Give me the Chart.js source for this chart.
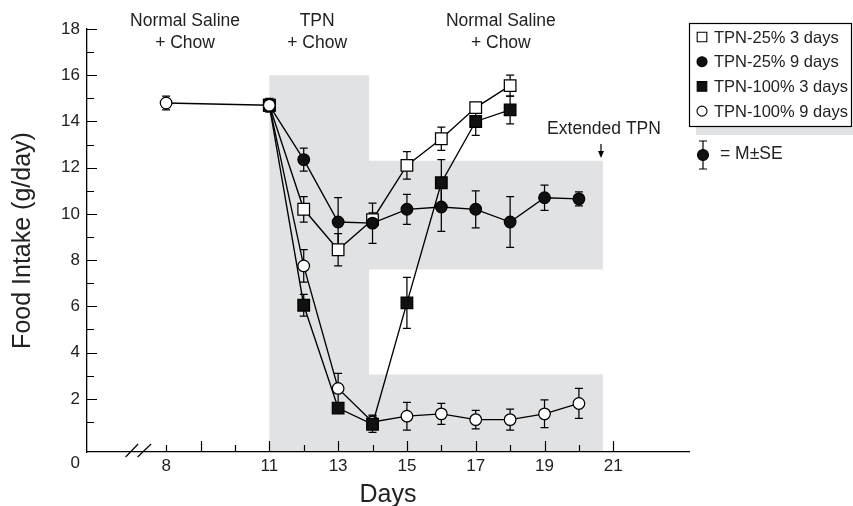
<!DOCTYPE html>
<html>
<head>
<meta charset="utf-8">
<script src="https://cdn.jsdelivr.net/npm/chart.js@4.4.1/dist/chart.umd.min.js"></script>
<style>
  html, body { margin: 0; padding: 0; background: #fff; }
</style>
</head>
<body>
<canvas id="intakeChart" width="853" height="506"></canvas>
<script>
// Food intake (g/day), mean and SE
const baseDays = [8, 11];
const baseIntake = [14.8, 14.7];
const baseSE = [0.3, 0.3];

const days25s3 = [11, 12, 13, 14, 15, 16, 17, 18];
const intake25s3 = [14.7, 10.2, 8.45, 9.75, 12.1, 13.25, 14.6, 15.55];
const se25s3 = [0, 0.55, 0.7, 0.3, 0.6, 0.5, 0.22, 0.45];

const days25s9 = [11, 12, 13, 14, 15, 16, 17, 18, 19, 20];
const intake25s9 = [14.7, 12.35, 9.65, 9.6, 10.2, 10.3, 10.2, 9.65, 10.7, 10.65];
const se25s9 = [0, 0.5, 1.05, 0.87, 0.65, 1.05, 0.8, 1.1, 0.55, 0.3];

const days100s3 = [11, 12, 13, 14, 15, 16, 17, 18];
const intake100s3 = [14.7, 6.05, 1.6, 0.9, 6.15, 11.35, 14.0, 14.5];
const se100s3 = [0, 0.47, 0.2, 0.35, 1.1, 1.0, 0.6, 0.6];

const days100s9 = [11, 12, 13, 14, 15, 16, 17, 18, 19, 20];
const intake100s9 = [14.7, 7.75, 2.45, 1.0, 1.25, 1.35, 1.1, 1.1, 1.35, 1.8];
const se100s9 = [0, 0.7, 0.65, 0.3, 0.6, 0.45, 0.4, 0.45, 0.6, 0.65];

const xTickLabels = [8, 11, 13, 15, 17, 19, 21];
const yTickLabels = [2, 4, 6, 8, 10, 12, 14, 16, 18];
const legendLabels = ['TPN-25% 3 days', 'TPN-25% 9 days', 'TPN-100% 3 days', 'TPN-100% 9 days'];

const FONT = '"Liberation Sans", Arial, Helvetica, sans-serif';
const INK = '#222';
const SHADE = '#e1e2e4';

function series(label, days, vals, se, shape, fill) {
  const rect = shape === 'rect';
  return {
    label: label,
    data: days.map((d, i) => ({ x: d, y: vals[i] })),
    se: se,
    showLine: true,
    borderColor: '#000',
    borderWidth: 1.35,
    tension: 0,
    pointStyle: shape,
    pointRadius: rect ? 8.2 : 5.8,
    pointHoverRadius: rect ? 8.2 : 5.8,
    pointBackgroundColor: fill,
    pointBorderColor: '#000',
    pointBorderWidth: 1.25
  };
}

// first dataset is drawn on top
const datasets = [
  series('baseline', baseDays, baseIntake, baseSE, 'circle', '#fff'),
  series('TPN-100% 3 days', days100s3, intake100s3, se100s3, 'rect', '#111'),
  series('TPN-25% 9 days', days25s9, intake25s9, se25s9, 'circle', '#111'),
  series('TPN-100% 9 days', days100s9, intake100s9, se100s9, 'circle', '#fff'),
  series('TPN-25% 3 days', days25s3, intake25s3, se25s3, 'rect', '#fff')
];

function marker(ctx, shape, fill, cx, cy, r) {
  ctx.beginPath();
  if (shape === 'rect') ctx.rect(cx - r, cy - r, 2 * r, 2 * r);
  else ctx.arc(cx, cy, r, 0, Math.PI * 2);
  ctx.fillStyle = fill;
  ctx.fill();
  ctx.lineWidth = 1.1;
  ctx.strokeStyle = '#000';
  ctx.stroke();
}

function errBar(ctx, x, yTop, yBot, cap) {
  ctx.beginPath();
  ctx.moveTo(x, yTop); ctx.lineTo(x, yBot);
  ctx.moveTo(x - cap, yTop); ctx.lineTo(x + cap, yTop);
  ctx.moveTo(x - cap, yBot); ctx.lineTo(x + cap, yBot);
  ctx.stroke();
}

const extras = {
  id: 'extras',
  beforeDraw(chart) {
    const { ctx, scales: { x, y } } = chart;
    const px = d => x.getPixelForValue(d), py = v => y.getPixelForValue(v);
    // TPN period and extended TPN band ("E" shape)
    ctx.save();
    ctx.fillStyle = SHADE;
    ctx.beginPath();
    ctx.moveTo(px(11), py(-0.3));
    ctx.lineTo(px(11), py(16));
    ctx.lineTo(px(13.9), py(16));
    ctx.lineTo(px(13.9), py(12.3));
    ctx.lineTo(px(20.7), py(12.3));
    ctx.lineTo(px(20.7), py(7.6));
    ctx.lineTo(px(13.9), py(7.6));
    ctx.lineTo(px(13.9), py(3.05));
    ctx.lineTo(px(20.7), py(3.05));
    ctx.lineTo(px(20.7), py(-0.3));
    ctx.closePath();
    ctx.fill();
    ctx.restore();
  },
  beforeDatasetsDraw(chart) {
    const { ctx, scales: { y } } = chart;
    ctx.save();
    ctx.strokeStyle = '#000';
    ctx.lineWidth = 1.25;
    chart.data.datasets.forEach((ds, i) => {
      const meta = chart.getDatasetMeta(i);
      ds.data.forEach((p, j) => {
        const se = ds.se[j];
        if (!se) return;
        errBar(ctx, meta.data[j].x, y.getPixelForValue(p.y + se), y.getPixelForValue(p.y - se), 4);
      });
    });
    ctx.restore();
  },
  afterDraw(chart) {
    const { ctx, chartArea: a, scales: { x, y } } = chart;
    ctx.save();
    ctx.strokeStyle = '#000';
    ctx.lineWidth = 1.2;
    // inward ticks
    ctx.beginPath();
    for (let v = 1; v <= 18; v++) {
      const yy = Math.round(y.getPixelForValue(v)) + 0.5;
      ctx.moveTo(a.left, yy);
      ctx.lineTo(a.left + (v % 2 === 0 ? 10 : 7), yy);
    }
    for (let d = 8; d <= 21; d++) {
      const xx = Math.round(x.getPixelForValue(d)) + 0.5;
      ctx.moveTo(xx, a.bottom);
      ctx.lineTo(xx, a.bottom - (d % 2 === 1 ? 11 : 7));
    }
    ctx.stroke();
    // axis break
    const bx = x.getPixelForValue(7.2);
    ctx.beginPath();
    ctx.moveTo(bx - 13, a.bottom + 5); ctx.lineTo(bx - 0.5, a.bottom - 8);
    ctx.moveTo(bx - 1, a.bottom + 5); ctx.lineTo(bx + 12.5, a.bottom - 8);
    ctx.stroke();

    ctx.fillStyle = INK;
    ctx.textBaseline = 'middle';
    ctx.textAlign = 'right';
    ctx.font = '17px ' + FONT;
    ctx.fillText('0', a.left - 7, y.getPixelForValue(0) + 18);

    // phase notes
    ctx.textAlign = 'center';
    ctx.font = '17.5px ' + FONT;
    [[8.55, 'Normal Saline', '+ Chow'], [12.39, 'TPN', '+ Chow'], [17.73, 'Normal Saline', '+ Chow']].forEach(n => {
      const cx = x.getPixelForValue(n[0]);
      ctx.fillText(n[1], cx, 21);
      ctx.fillText(n[2], cx, 43);
    });
    ctx.fillText('Extended TPN', 604, 129);
    const ax = x.getPixelForValue(20.7) - 2;
    ctx.beginPath();
    ctx.moveTo(ax, 144); ctx.lineTo(ax, 152);
    ctx.stroke();
    ctx.beginPath();
    ctx.moveTo(ax - 3, 151); ctx.lineTo(ax + 3, 151); ctx.lineTo(ax, 158);
    ctx.closePath();
    ctx.fillStyle = '#000';
    ctx.fill();

    // legend box
    ctx.fillStyle = SHADE;
    ctx.fillRect(696, 127, 157, 8);
    ctx.fillStyle = '#fff';
    ctx.fillRect(689.5, 23.5, 162, 103);
    ctx.strokeStyle = '#000';
    ctx.lineWidth = 1.2;
    ctx.strokeRect(689.5, 23.5, 162, 103);
    ctx.font = '16.5px ' + FONT;
    ctx.textAlign = 'left';
    legendLabels.forEach((lab, i) => {
      const ds = chart.data.datasets.find(d => d.label === lab);
      const cy = 37 + i * 24.7;
      marker(ctx, ds.pointStyle, ds.pointBackgroundColor, 702, cy, ds.pointStyle === 'rect' ? 4.8 : 5);
      ctx.fillStyle = INK;
      ctx.fillText(lab, 714, cy + 1);
    });

    // M±SE key
    ctx.strokeStyle = '#000';
    ctx.lineWidth = 1.2;
    errBar(ctx, 703, 141, 169, 4);
    marker(ctx, 'circle', '#111', 703, 155, 5.5);
    ctx.fillStyle = INK;
    ctx.font = '17.5px ' + FONT;
    ctx.fillText('= M\u00b1SE', 720, 154);
    ctx.restore();
  }
};

new Chart(document.getElementById('intakeChart'), {
  type: 'line',
  data: { datasets: datasets },
  options: {
    responsive: false,
    devicePixelRatio: 1,
    animation: false,
    layout: { padding: { left: 0, right: 164, top: 29, bottom: 0 } },
    plugins: {
      legend: { display: false },
      tooltip: { enabled: false }
    },
    scales: {
      x: {
        type: 'linear',
        min: 5.7,
        max: 23.2,
        afterFit: s => { s.height = 54; },
        grid: { display: false, drawTicks: false },
        border: { display: true, color: '#000', width: 1.3 },
        ticks: {
          stepSize: 1, autoSkip: false, maxRotation: 0, padding: 4, color: INK,
          font: { size: 17, family: FONT },
          callback: v => xTickLabels.includes(v) ? String(v) : ''
        },
        title: {
          display: true, text: 'Days', color: INK,
          font: { size: 25, family: FONT, lineHeight: 0.84 },
          padding: { top: 0, bottom: 0 }
        }
      },
      y: {
        type: 'linear',
        min: -0.3,
        max: 18,
        afterFit: s => { s.width = 87; },
        grid: { display: false, drawTicks: false },
        border: { display: true, color: '#000', width: 1.3 },
        ticks: {
          stepSize: 1, autoSkip: false, padding: 7, color: INK,
          font: { size: 17, family: FONT },
          callback: v => yTickLabels.includes(v) ? String(v) : ''
        },
        title: {
          display: true, text: 'Food Intake (g/day)', color: INK,
          font: { size: 25, family: FONT, lineHeight: 1 },
          padding: { top: 11, bottom: 0 }
        }
      }
    }
  },
  plugins: [extras]
});
</script>
</body>
</html>
